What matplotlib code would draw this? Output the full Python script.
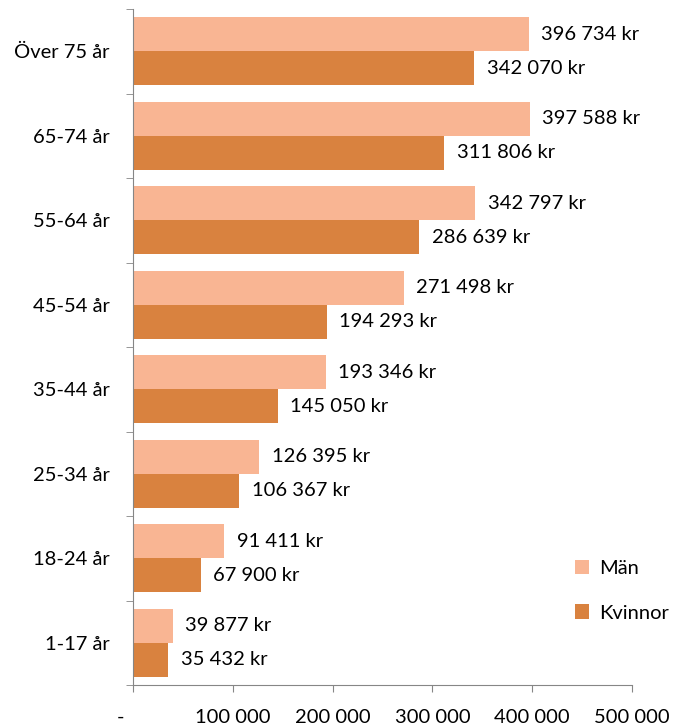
import numpy as np
import matplotlib.pyplot as plt
from matplotlib.transforms import ScaledTranslation

categories = ["Över 75 år", "65-74 år", "55-64 år", "45-54 år",
              "35-44 år", "25-34 år", "18-24 år", "1-17 år"]
man = [396734, 397588, 342797, 271498, 193346, 126395, 91411, 39877]
kvinnor = [342070, 311806, 286639, 194293, 145050, 106367, 67900, 35432]
xticks = [0, 100000, 200000, 300000, 400000, 500000]
xticklabels = ["-", "100 000", "200 000", "300 000", "400 000", "500 000"]

col_man = "#F9B593"
col_kv = "#D9823F"
axis_col = "#868686"

plt.rcParams['font.family'] = ['Lato', 'DejaVu Sans']


def fmt(v):
    return "{:,}".format(v).replace(",", " ") + " kr"


fig = plt.figure(figsize=(6.86, 7.25), dpi=100)
ax = fig.add_axes([133 / 686, 40 / 725, (632 - 133) / 686, (685 - 9) / 725])

n = len(categories)
y = np.arange(n)[::-1]  # top category first
h = 0.4
ax.barh(y + h / 2, man, height=h, color=col_man, label="Män")
ax.barh(y - h / 2, kvinnor, height=h, color=col_kv, label="Kvinnor")

for yi, m, k in zip(y, man, kvinnor):
    ax.annotate(fmt(m), (m, yi + h / 2), xytext=(9, 0), textcoords="offset points",
                va="center", ha="left", fontsize=14.5, color="black")
    ax.annotate(fmt(k), (k, yi - h / 2), xytext=(9, 0), textcoords="offset points",
                va="center", ha="left", fontsize=14.5, color="black")

ax.set_xlim(0, 500000)
ax.set_ylim(-0.5, n - 0.5)

ax.set_xticks(xticks)
ax.set_xticklabels(xticklabels, fontsize=14.5)
ax.set_yticks(y)
ax.set_yticklabels(categories, fontsize=14.5)
ax.set_yticks(np.arange(n + 1) - 0.5, minor=True)

ax.tick_params(axis="y", which="major", length=0, pad=17)
ax.tick_params(axis="y", which="minor", length=5, color=axis_col, direction="out")
ax.tick_params(axis="x", length=5, color=axis_col, direction="out", pad=12)

# the "-" zero label sits a bit left of the axis, like Excel's accounting format
lab0 = ax.get_xticklabels()[0]
lab0.set_transform(lab0.get_transform() + ScaledTranslation(-13 / 100, 0, fig.dpi_scale_trans))

for s in ["top", "right"]:
    ax.spines[s].set_visible(False)
for s in ["left", "bottom"]:
    ax.spines[s].set_color(axis_col)

ax.legend(loc="lower right", bbox_to_anchor=(1.11, 0.067), frameon=False,
          fontsize=14.5, handlelength=0.7, handleheight=0.7, labelspacing=1.35,
          handletextpad=0.5)

fig.savefig("out.png", dpi=100)
